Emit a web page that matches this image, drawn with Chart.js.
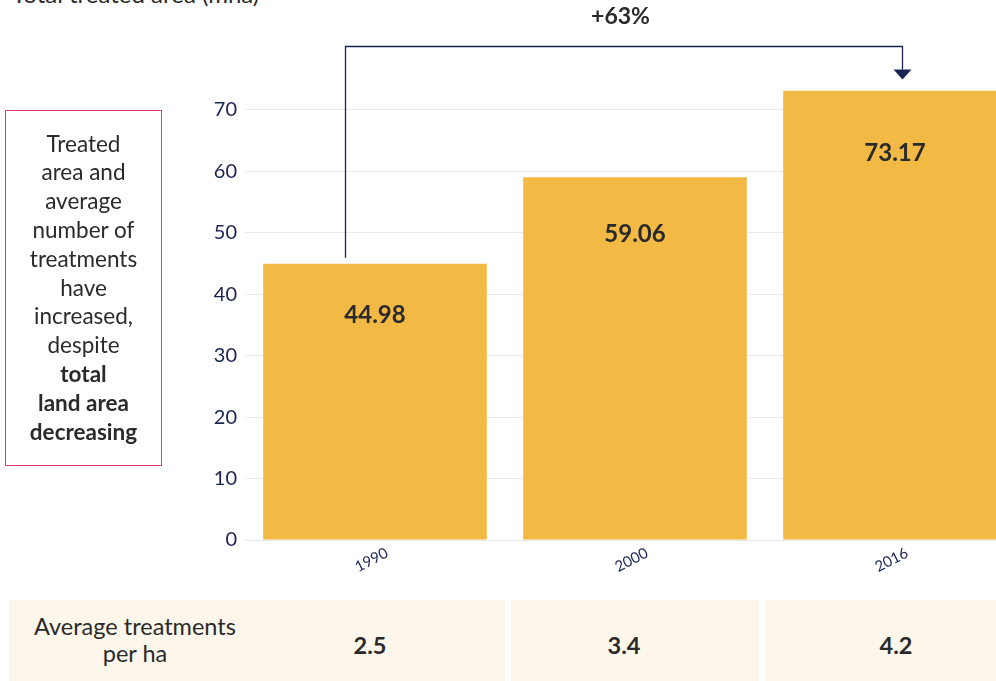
<!DOCTYPE html>
<html>
<head>
<meta charset="utf-8">
<script src="https://cdn.jsdelivr.net/npm/chart.js@4"></script>
<style>
  html, body { margin:0; padding:0; width:996px; height:681px; overflow:hidden; background:#fff; font-family: Lato, "Open Sans", sans-serif; }
  #title { position:absolute; left:12px; top:-19px; font-size:24px; line-height:26px; color:#2a2a2a; white-space:nowrap; }
  #wrap { position:absolute; left:0; top:0; width:1025px; height:600px; }
  #note { position:absolute; left:5px; top:110px; width:155px; height:354px; border:1.5px solid #e23c72; box-sizing:content-box;
          display:flex; align-items:center; justify-content:center; text-align:center; font-size:22.5px; line-height:28.8px; color:#2a2a2a; }
  #note b { font-weight:700; }
  .cell { position:absolute; top:600px; height:81px; background:#fdf6ea; }
  .lab { position:absolute; font-size:23.5px; line-height:27px; color:#2a2a2a; text-align:center; white-space:nowrap; }
  .val { position:absolute; font-size:23.5px; font-weight:700; color:#2a2a2a; text-align:center; top:31px; line-height:28px; }
</style>
</head>
<body>
<div id="title"></div>
<div id="wrap"><canvas id="c"></canvas></div>
<div id="note"></div>
<div class="cell" style="left:9px; width:496px;">
  <div class="lab" id="rowLabel" style="left:0; width:252px; top:13px;"></div>
  <div class="val" id="v0" style="left:291px; width:140px;"></div>
</div>
<div class="cell" style="left:511px; width:248px;">
  <div class="val" id="v1" style="left:43px; width:140px;"></div>
</div>
<div class="cell" style="left:765px; width:240px;">
  <div class="val" id="v2" style="left:61px; width:140px;"></div>
</div>
<script>
// ---- data ----
const titleText = "Total treated area (mha)";
const years = ["1990", "2000", "2016"];
const treatedArea = [44.98, 59.06, 73.17];
const avgTreatments = ["2.5", "3.4", "4.2"];
const rowLabelLines = ["Average treatments", "per ha"];
const changeLabel = "+63%";
const noteLines = ["Treated", "area and", "average", "number of", "treatments", "have", "increased,", "despite"];
const noteBoldLines = ["total", "land area", "decreasing"];
const yTicks = [0, 10, 20, 30, 40, 50, 60, 70];

// ---- html text ----
document.getElementById('title').textContent = titleText;
document.getElementById('rowLabel').innerHTML = rowLabelLines.join('<br>');
avgTreatments.forEach((v, i) => document.getElementById('v' + i).textContent = v);
document.getElementById('note').innerHTML = '<div>' + noteLines.join('<br>') + '<br><b>' + noteBoldLines.join('<br>') + '</b></div>';

const navy = '#1b2352';
const barColor = '#f2b944';

const labelsPlugin = {
  id: 'barLabels',
  afterDatasetsDraw(chart) {
    const ctx = chart.ctx;
    const meta = chart.getDatasetMeta(0);
    ctx.save();
    ctx.font = '700 24px Lato';
    ctx.fillStyle = '#2a2a2a';
    ctx.textAlign = 'center';
    ctx.textBaseline = 'middle';
    meta.data.forEach((bar, i) => {
      const h = bar.base - bar.y;
      ctx.fillText(treatedArea[i].toFixed(2), bar.x, bar.y + 34.5 + 0.0636 * h);
    });
    ctx.restore();
  }
};

const arrowPlugin = {
  id: 'arrow',
  afterDatasetsDraw(chart) {
    const ctx = chart.ctx;
    const meta = chart.getDatasetMeta(0);
    const b0 = meta.data[0], b2 = meta.data[meta.data.length - 1];
    const x0 = b0.x - 30, x1 = b2.x + 7;
    const yTop = 46.5;
    const yStart = b0.y - 6;
    const tipY = b2.y - 11;
    ctx.save();
    ctx.strokeStyle = navy;
    ctx.lineWidth = 1.3;
    ctx.beginPath();
    ctx.moveTo(x0 + 0.5, yStart);
    ctx.lineTo(x0 + 0.5, yTop);
    ctx.lineTo(x1 + 0.5, yTop);
    ctx.lineTo(x1 + 0.5, tipY - 10);
    ctx.stroke();
    ctx.fillStyle = navy;
    ctx.beginPath();
    ctx.moveTo(x1 + 0.5 - 9, tipY - 10);
    ctx.lineTo(x1 + 0.5 + 9, tipY - 10);
    ctx.lineTo(x1 + 0.5, tipY);
    ctx.closePath();
    ctx.fill();
    ctx.font = '700 23px Lato';
    ctx.fillStyle = '#2a2a2a';
    ctx.textAlign = 'center';
    ctx.textBaseline = 'middle';
    ctx.fillText(changeLabel, (x0 + x1) / 2 - 3, 17);
    ctx.restore();
  }
};

new Chart(document.getElementById('c'), {
  type: 'bar',
  data: {
    labels: years,
    datasets: [{
      data: treatedArea,
      backgroundColor: barColor,
      borderWidth: 0,
      categoryPercentage: 0.86,
      barPercentage: 1.0
    }]
  },
  options: {
    responsive: true,
    maintainAspectRatio: false,
    animation: false,
    layout: { padding: { top: 90.5, left: 0, right: 0, bottom: 0 } },
    plugins: { legend: { display: false }, tooltip: { enabled: false } },
    scales: {
      x: {
        grid: { display: false, drawTicks: false },
        border: { color: '#e6e6e6' },
        ticks: {
          color: navy, font: { family: 'Lato', size: 15 },
          minRotation: 27, maxRotation: 27, padding: 4, labelOffset: 12
        },
        afterFit(axis) { axis.height = 60; }
      },
      y: {
        min: 0,
        max: Math.max(...treatedArea),
        grid: { color: '#ebebeb', drawTicks: false },
        border: { display: false },
        ticks: {
          color: navy, font: { family: 'Lato', size: 20 }, padding: 8, stepSize: 10
        },
        afterBuildTicks(axis) { axis.ticks = yTicks.map(v => ({ value: v })); },
        afterFit(axis) { axis.width = 245; }
      }
    }
  },
  plugins: [labelsPlugin, arrowPlugin]
});
</script>
</body>
</html>
